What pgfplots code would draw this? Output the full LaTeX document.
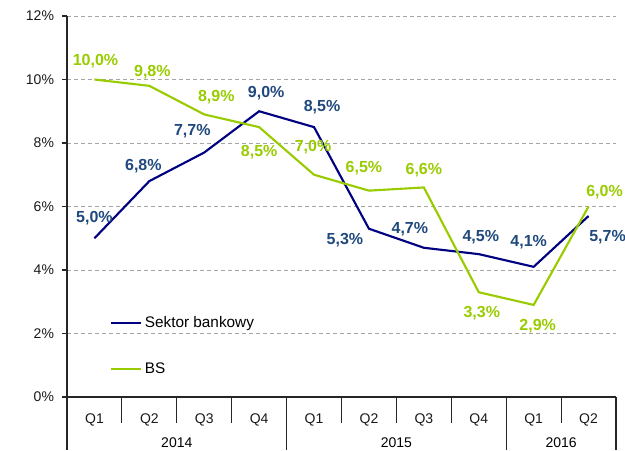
\documentclass[border=0pt]{standalone}
\usepackage{pgfplots}
\pgfplotsset{compat=1.18}
\usepackage{fontspec}
\setmainfont{Liberation Sans}

\definecolor{sbline}{RGB}{0,0,128}
\definecolor{sblabel}{RGB}{31,73,125}
\definecolor{bsgreen}{RGB}{153,204,0}
\definecolor{gridgray}{RGB}{165,165,165}

% x = quarter index, y = value, lx/ly = label offset in px
\pgfplotstableread{
x y lx ly
1 5.0 0 20
2 6.8 -6 15
3 7.7 -12 21
4 9.0 7 18
5 8.5 8 20
6 5.3 -24 -11
7 4.7 -14 19
8 4.5 2 17
9 4.1 -5 25
10 5.7 19 -21
}\sektor

\pgfplotstableread{
x y lx ly
1 10.0 1 18
2 9.8 3 14
3 8.9 12 17
4 8.5 0 -25
5 7.0 -1 28
6 6.5 -5 22
7 6.6 0 17
8 3.3 3 -21
9 2.9 4 -21
10 6.0 16 14
}\bs

\begin{document}
\begin{tikzpicture}
\begin{axis}[
    scale only axis,
    width=411.75pt, height=285.75pt,
    xmin=0.5, xmax=10.5, ymin=0, ymax=12,
    axis x line*=bottom, axis y line*=left,
    axis line style={line width=0.8pt, black!85},
    clip=false,
    ytick={0,2,...,12},
    yticklabel={\pgfmathprintnumber{\tick}\%},
    /pgf/number format/assume math mode=true,
    tick label style={font=\fontsize{10.5}{12}\selectfont, black!90},
    yticklabel style={xshift=-2.5pt},
    major y tick style={black!85, line width=0.8pt},
    tick align=outside,
    major tick length=3.75pt,
    ymajorgrids,
    grid style={gridgray, line width=0.7pt, dash pattern=on 3pt off 2.25pt},
    xtick={1,...,10},
    xticklabels={Q1,Q2,Q3,Q4,Q1,Q2,Q3,Q4,Q1,Q2},
    major x tick style={draw=none},
    xticklabel style={yshift=-5pt},
    point meta=y,
    nodes near coords={\pgfmathprintnumber[fixed,fixed zerofill,precision=1,use comma]{\pgfplotspointmeta}\%},
    visualization depends on={\thisrow{lx}\as\labx},
    visualization depends on={\thisrow{ly}\as\laby},
    every node near coord/.append style={anchor=center, inner sep=0pt,
        xshift={0.75*\labx}, yshift={0.75*\laby},
        font=\bfseries\fontsize{12}{14}\selectfont},
    legend style={draw=none, fill=none, at={(0.078,0.22)}, anchor=north west,
        font=\fontsize{11.5}{13}\selectfont, row sep=21pt, inner sep=0pt},
    legend cell align=left,
    legend image code/.code={\draw[#1] (0pt,0pt) -- (22.5pt,0pt);},
]
\addplot[sbline, line width=1.6pt, mark=none,
    every node near coord/.append style={text=sblabel}] table[x=x, y=y] {\sektor};
\addlegendentry{Sektor bankowy}
\addplot[bsgreen, line width=1.6pt, mark=none,
    every node near coord/.append style={text=bsgreen}] table[x=x, y=y] {\bs};
\addlegendentry{BS}

% category separators below the axis
\draw[black!85, line width=0.8pt] (axis cs:1.5,0) -- ([yshift=-19.5pt]axis cs:1.5,0);
\draw[black!85, line width=0.8pt] (axis cs:2.5,0) -- ([yshift=-19.5pt]axis cs:2.5,0);
\draw[black!85, line width=0.8pt] (axis cs:3.5,0) -- ([yshift=-19.5pt]axis cs:3.5,0);
\draw[black!85, line width=0.8pt] (axis cs:5.5,0) -- ([yshift=-19.5pt]axis cs:5.5,0);
\draw[black!85, line width=0.8pt] (axis cs:6.5,0) -- ([yshift=-19.5pt]axis cs:6.5,0);
\draw[black!85, line width=0.8pt] (axis cs:7.5,0) -- ([yshift=-19.5pt]axis cs:7.5,0);
\draw[black!85, line width=0.8pt] (axis cs:9.5,0) -- ([yshift=-19.5pt]axis cs:9.5,0);
\draw[black!85, line width=0.8pt] (axis cs:0.5,0) -- ([yshift=-40pt]axis cs:0.5,0);
\draw[black!85, line width=0.8pt] (axis cs:4.5,0) -- ([yshift=-40pt]axis cs:4.5,0);
\draw[black!85, line width=0.8pt] (axis cs:8.5,0) -- ([yshift=-40pt]axis cs:8.5,0);
\draw[black!85, line width=0.8pt] (axis cs:10.5,0) -- ([yshift=-40pt]axis cs:10.5,0);
\node[font=\fontsize{10.5}{12}\selectfont] at ([yshift=-34pt]axis cs:2.5,0) {2014};
\node[font=\fontsize{10.5}{12}\selectfont] at ([yshift=-34pt]axis cs:6.5,0) {2015};
\node[font=\fontsize{10.5}{12}\selectfont] at ([yshift=-34pt]axis cs:9.5,0) {2016};

\coordinate (sw) at (rel axis cs:0,0);
\coordinate (ne) at (rel axis cs:1,1);
\end{axis}
\pgfresetboundingbox
\path ([shift={(-50.25pt,-39.75pt)}]sw) rectangle ([shift={(6.75pt,12pt)}]ne);
\end{tikzpicture}
\end{document}
